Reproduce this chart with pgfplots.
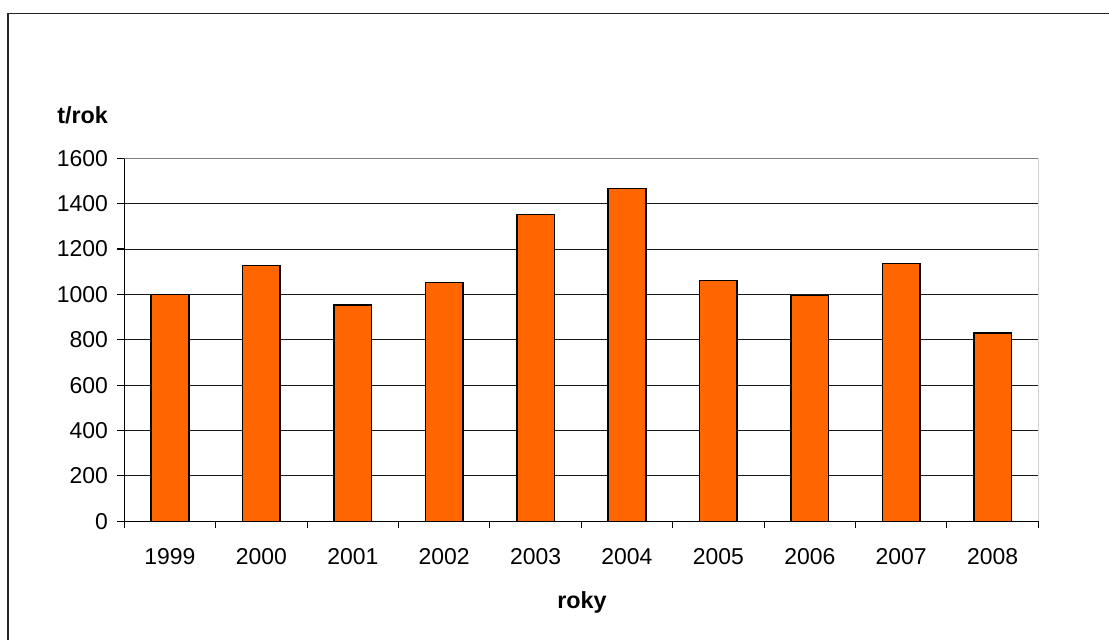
\documentclass[border=0pt]{standalone}
\usepackage{pgfplots}
\pgfplotsset{compat=1.18}
\usepackage{fontspec}
\setmainfont{Liberation Sans}
\definecolor{barorange}{HTML}{FF6600}
\begin{document}
\begin{tikzpicture}[x=0.75pt,y=0.75pt]
\path[use as bounding box] (0,0) rectangle (1109,639);
\draw[line width=1.1pt, black!85] (8,-10) -- (8,625.3) -- (1120,625.3);
\begin{axis}[
  at={(93.2pt,88.3pt)}, anchor=south west,
  scale only axis, width=685.5pt, height=272.25pt,
  xmin=-0.5, xmax=9.5, ymin=0, ymax=1600,
  axis lines*=left,
  axis line style={black, line width=0.8pt},
  ytick={0,200,...,1600},
  xtick={-0.5,0.5,...,9.5},
  x tick label as interval,
  xticklabels={1999,2000,2001,2002,2003,2004,2005,2006,2007,2008},
  tick align=outside,
  major tick length=5.25pt,
  tick style={black, line width=0.8pt},
  ymajorgrids,
  grid style={black!90, line width=0.75pt},
  ticklabel style={font=\fontsize{17.2}{20}\selectfont},
  /pgf/number format/assume math mode=true,
  /pgf/number format/1000 sep={},
  yticklabel style={xshift=-3.5pt},
  xticklabel style={yshift=-11.5pt},
  ybar, bar width=28.2pt,
]
\addplot[fill=barorange, draw=black, line width=1.1pt] coordinates {
  (0,1000) (1,1128) (2,954) (3,1053) (4,1353)
  (5,1467) (6,1062) (7,996) (8,1137) (9,829)
};
\draw[gray, line width=1.1pt] (rel axis cs:0,1) -- (rel axis cs:1,1) -- (rel axis cs:1,0);
\end{axis}
\node[anchor=base west, inner sep=0pt, font=\bfseries\fontsize{17.5}{20}\selectfont] at (57,639-123.3) {t/rok};
\node[anchor=base, inner sep=0pt, font=\bfseries\fontsize{17.5}{20}\selectfont] at (582,639-608.3) {roky};
\end{tikzpicture}
\end{document}
